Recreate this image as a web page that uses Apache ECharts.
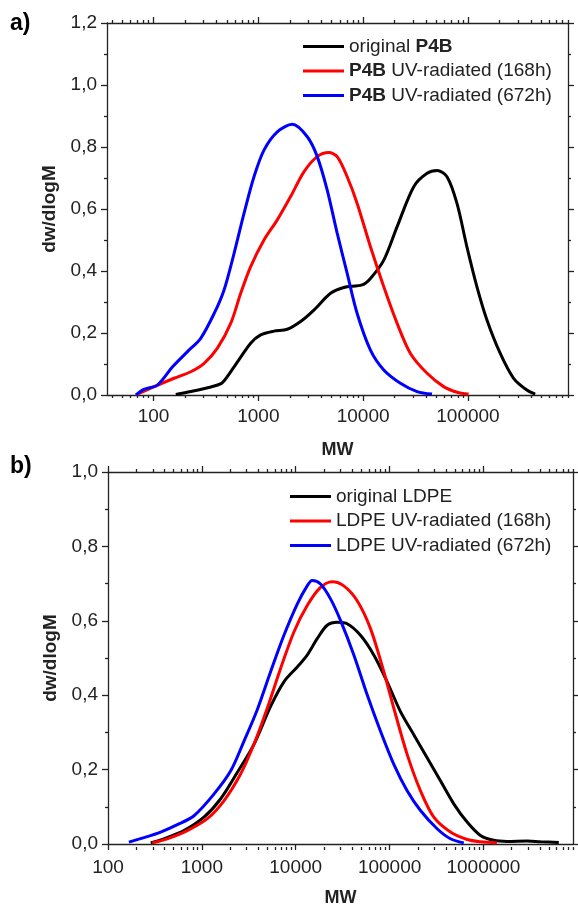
<!DOCTYPE html>
<html>
<head>
<meta charset="utf-8">
<script src="https://cdn.jsdelivr.net/npm/echarts@6/dist/echarts.min.js"></script>
<style>
  html, body { margin: 0; padding: 0; background: #fff; }
  #chart { width: 578px; height: 908px; }
</style>
</head>
<body>
<div id="chart"></div>
<script>
// a) P4B  -- [MW, dw/dlogM]
var p4bOriginal = [[163, 0.002], [227, 0.011], [379, 0.029], [454, 0.040], [587, 0.091], [845, 0.167],
    [1052, 0.194], [1409, 0.206], [1887, 0.212], [2529, 0.237], [3389, 0.274], [4886, 0.328],
    [6546, 0.347], [9775, 0.355], [11740, 0.376], [15730, 0.435], [21090, 0.543], [30380, 0.672],
    [40740, 0.715], [50700, 0.724], [63100, 0.704], [78540, 0.618], [97700, 0.478], [121800, 0.349],
    [151700, 0.242], [203200, 0.134], [272300, 0.054], [364800, 0.016], [437700, 0.003]];
var p4b168h = [[68, 0.0], [94, 0.022], [157, 0.054], [227, 0.075], [304, 0.102], [407, 0.151],
    [545, 0.231], [679, 0.328], [845, 0.414], [1132, 0.500], [1517, 0.565], [2032, 0.640],
    [2722, 0.720], [3648, 0.769], [4712, 0.782], [5653, 0.769], [7040, 0.704], [8766, 0.618],
    [11740, 0.478], [15730, 0.349], [21090, 0.231], [28250, 0.134], [40740, 0.070], [58650, 0.027],
    [78540, 0.009], [101300, 0.003]];
var p4b672h = [[68, 0.0], [81, 0.018], [109, 0.032], [152, 0.091], [211, 0.140], [282, 0.183],
    [379, 0.263], [471, 0.339], [587, 0.457], [730, 0.586], [909, 0.704], [1132, 0.790],
    [1517, 0.849], [2109, 0.873], [2931, 0.833], [3648, 0.769], [4541, 0.661], [5653, 0.522],
    [7040, 0.392], [8766, 0.263], [11740, 0.145], [15730, 0.081], [22690, 0.038], [32680, 0.011],
    [45400, 0.003]];

// b) LDPE
var ldpeOriginal = [[285, 0.003], [394, 0.014], [644, 0.036], [1052, 0.072], [1581, 0.121], [2382, 0.192],
    [3587, 0.268], [5399, 0.370], [7488, 0.436], [10380, 0.476], [13250, 0.508], [16940, 0.552],
    [21640, 0.588], [27670, 0.596], [35340, 0.592], [48980, 0.561], [67920, 0.508], [94190, 0.436],
    [130600, 0.356], [181100, 0.294], [251200, 0.232], [348300, 0.170], [482900, 0.108], [669900, 0.059],
    [929400, 0.023], [1288000, 0.010], [1786000, 0.007], [2917000, 0.008], [4045000, 0.006], [6353000, 0.004]];
var ldpe168h = [[296, 0.003], [428, 0.014], [700, 0.036], [1143, 0.068], [1718, 0.116], [2586, 0.188],
    [3587, 0.268], [4975, 0.365], [6900, 0.472], [9570, 0.570], [13250, 0.641], [18370, 0.690],
    [24450, 0.705], [32560, 0.694], [45150, 0.654], [62620, 0.579], [86850, 0.463], [111000, 0.365],
    [153900, 0.241], [213400, 0.143], [295900, 0.072], [445400, 0.032], [669900, 0.012], [929400, 0.006],
    [1396000, 0.003]];
var ldpe672h = [[167, 0.005], [242, 0.017], [364, 0.032], [548, 0.052], [825, 0.076], [1344, 0.134],
    [2023, 0.196], [2806, 0.276], [3893, 0.361], [5399, 0.463], [7488, 0.561], [10380, 0.645],
    [13250, 0.694], [14990, 0.708], [18370, 0.699], [23490, 0.659], [30010, 0.601], [41620, 0.508],
    [57720, 0.401], [80060, 0.303], [111000, 0.214], [153900, 0.143], [213400, 0.090], [321100, 0.041],
    [445400, 0.014], [617800, 0.003]];

var namesA = ['original P4B', 'P4B UV-radiated (168h)', 'P4B UV-radiated (672h)'];
var namesB = ['original LDPE', 'LDPE UV-radiated (168h)', 'LDPE UV-radiated (672h)'];
var lineColors = ['#000000', '#ff0000', '#0000ff'];

var majorTicksA = [100, 1000, 10000, 100000];
var majorTicksB = [100, 1000, 10000, 100000, 1000000];
var minorMultipliers = [2, 3, 4, 5, 6, 7, 8, 9];
var decadesA = [10, 100, 1000, 10000, 100000];
var decadesB = [100, 1000, 10000, 100000, 1000000];

var font = 'Liberation Sans, Arial, sans-serif';
var ink = '#222';
var axisLine = { color: ink, width: 1.3 };

function minorTicks(decades, min, max) {
    var out = [];
    decades.forEach(function (d) {
        minorMultipliers.forEach(function (m) {
            var v = d * m;
            if (v >= min && v <= max) out.push(v);
        });
    });
    return out;
}

// axes of the main grid: bottom (labels + major ticks) and top (major ticks)
function majorLogAxes(gridIndex, min, max, major, labelMargin, nameGap) {
    var base = {
        type: 'log', gridIndex: gridIndex, min: min, max: max,
        splitLine: { show: false }, minorSplitLine: { show: false },
        axisLine: { show: true, onZero: false, lineStyle: axisLine },
        axisTick: { show: true, length: 6, customValues: major, lineStyle: axisLine }
    };
    return [
        Object.assign({}, base, {
            position: 'bottom',
            axisLabel: {
                customValues: major, margin: labelMargin, fontSize: 19, color: ink, fontFamily: font,
                formatter: function (v) { return String(Math.round(v)); }
            },
            name: 'MW', nameLocation: 'middle', nameGap: nameGap,
            nameTextStyle: { fontWeight: 'bold', fontSize: 18, color: ink, fontFamily: font }
        }),
        Object.assign({}, base, { position: 'top', axisLabel: { show: false } })
    ];
}

// axes of the overlay grid: short minor ticks on bottom and top
function minorLogAxes(gridIndex, min, max, minor) {
    var base = {
        type: 'log', gridIndex: gridIndex, min: min, max: max,
        splitLine: { show: false }, minorSplitLine: { show: false },
        axisLine: { show: false },
        axisTick: { show: true, length: 3, customValues: minor, lineStyle: axisLine },
        axisLabel: { show: false }
    };
    return [
        Object.assign({}, base, { position: 'bottom' }),
        Object.assign({}, base, { position: 'top' })
    ];
}

function valueAxes(gridIndex, max) {
    var base = {
        type: 'value', gridIndex: gridIndex, min: 0, max: max, interval: 0.2,
        splitLine: { show: false }, minorSplitLine: { show: false },
        axisLine: { show: true, onZero: false, lineStyle: axisLine },
        axisTick: { show: true, length: 6, lineStyle: axisLine },
        minorTick: { show: true, splitNumber: 2, length: 3, lineStyle: axisLine }
    };
    return [
        Object.assign({}, base, {
            position: 'left',
            axisLabel: {
                margin: 10, fontSize: 19, color: ink, fontFamily: font,
                formatter: function (v) { return v.toFixed(1).replace('.', ','); }
            },
            name: 'dw/dlogM', nameLocation: 'middle', nameGap: 35, nameRotate: 90,
            nameTextStyle: { fontWeight: 'bold', fontSize: 19, color: ink, fontFamily: font }
        }),
        Object.assign({}, base, { position: 'right', axisLabel: { show: false } })
    ];
}

function legend(names, left, top) {
    return {
        data: names, orient: 'vertical', left: left, top: top, padding: 0,
        icon: 'rect', itemWidth: 41, itemHeight: 3, itemGap: 1.5,
        textStyle: {
            fontSize: 19, lineHeight: 23, color: ink, fontFamily: font,
            rich: { b: { fontWeight: 'bold', fontSize: 19, lineHeight: 23, color: ink, fontFamily: font } }
        },
        formatter: function (n) { return n.replace('P4B', '{b|P4B}'); }
    };
}

function curve(name, data, xi, yi, color) {
    return {
        name: name, type: 'line', data: data, xAxisIndex: xi, yAxisIndex: yi,
        showSymbol: false, smooth: 0.3, color: color,
        lineStyle: { width: 3, color: color }
    };
}

var minA = 36, maxA = 900000, minB = 100, maxB = 9000000;
var gridA = { left: 107, right: 10, top: 23, height: 372 };
var gridB = { left: 108, right: 5, top: 472, height: 375 };

var option = {
    animation: false,
    backgroundColor: '#fff',
    title: [
        { text: 'a)', left: 10, top: 12, padding: 0, textStyle: { fontSize: 23, fontWeight: 'bold', color: '#000', fontFamily: font } },
        { text: 'b)', left: 10, top: 455, padding: 0, textStyle: { fontSize: 23, fontWeight: 'bold', color: '#000', fontFamily: font } }
    ],
    grid: [gridA, gridB, Object.assign({}, gridA), Object.assign({}, gridB)],
    legend: [legend(namesA, 303, 35), legend(namesB, 290, 485)],
    xAxis: majorLogAxes(0, minA, maxA, majorTicksA, 12, 46)
        .concat(majorLogAxes(1, minB, maxB, majorTicksB, 14, 45))
        .concat(minorLogAxes(2, minA, maxA, minorTicks(decadesA, minA, maxA)))
        .concat(minorLogAxes(3, minB, maxB, minorTicks(decadesB, minB, maxB))),
    yAxis: valueAxes(0, 1.2).concat(valueAxes(1, 1.0)).concat([
        { type: 'value', gridIndex: 2, show: false, min: 0, max: 1.2 },
        { type: 'value', gridIndex: 3, show: false, min: 0, max: 1.0 }
    ]),
    series: [
        curve(namesA[0], p4bOriginal, 0, 0, lineColors[0]),
        curve(namesA[1], p4b168h, 0, 0, lineColors[1]),
        curve(namesA[2], p4b672h, 0, 0, lineColors[2]),
        curve(namesB[0], ldpeOriginal, 2, 2, lineColors[0]),
        curve(namesB[1], ldpe168h, 2, 2, lineColors[1]),
        curve(namesB[2], ldpe672h, 2, 2, lineColors[2])
    ]
};

var chart = echarts.init(document.getElementById('chart'));
chart.setOption(option);
</script>
</body>
</html>
